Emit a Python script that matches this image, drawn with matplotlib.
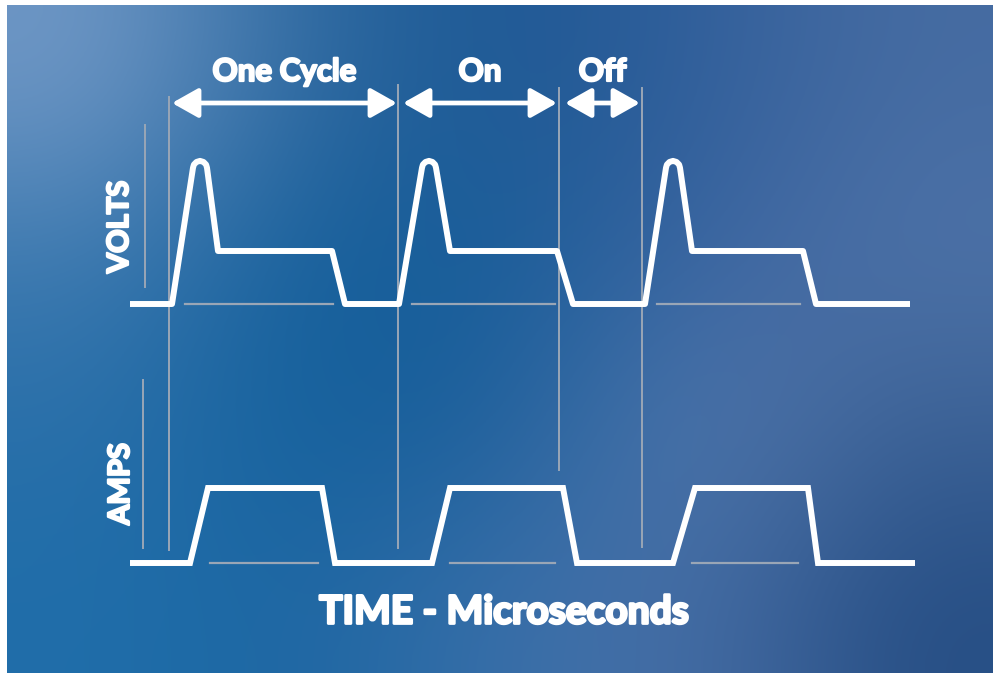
import numpy as np
import matplotlib
matplotlib.use("Agg")
import matplotlib.pyplot as plt
from matplotlib.patches import FancyArrowPatch
import matplotlib.patheffects as pe

# time in microseconds (diagram units), levels relative to baseline
volts_t = [0.0, 4.2, 6.3, 6.39, 6.65, 7.0, 7.35, 7.61, 7.7, 8.8, 20.2, 21.5,
           26.9, 29.2, 29.29, 29.55, 29.9, 30.25, 30.51, 30.6, 32.0, 42.7, 44.3,
           51.5, 53.6, 53.69, 53.95, 54.3, 54.65, 54.91, 55.0, 56.2, 67.3, 68.6,
           78.0]
volts_lvl = [0, 0, 2.57, 2.63, 2.68, 2.70, 2.68, 2.63, 2.57, 1, 1, 0,
             0, 2.57, 2.63, 2.68, 2.70, 2.68, 2.63, 2.57, 1, 1, 0,
             0, 2.57, 2.63, 2.68, 2.70, 2.68, 2.63, 2.57, 1, 1, 0,
             0]

amps_t = [0.0, 6.0, 7.8, 19.2, 20.5,
          30.2, 32.0, 43.3, 44.7,
          54.3, 56.5, 67.8, 68.8, 78.5]
amps_lvl = [0, 0, 1, 1, 0,
            0, 1, 1, 0,
            0, 1, 1, 0, 0]

# cycle markers (us) and the spans labelled above the traces
marks_t = [3.9, 26.8, 42.9, 51.2]
spans = [("One Cycle", 4.2, 26.7), ("On", 27.3, 42.7), ("Off", 43.5, 51.0)]

# gray reference segments at the baseline, under each pulse (start, end)
volts_ref = [(5.5, 20.3), (28.2, 42.5), (52.7, 67.0)]
amps_ref = [(8.0, 18.8), (32.0, 42.5), (56.2, 66.8)]

W, H = 993, 673
X0, PX = 130, 10.0          # pixel position of t=0, pixels per us
V_BASE, V_UNIT = 304, 53    # volts baseline row, pixels per level
A_BASE, A_UNIT = 563, 75

WHITE = "white"
GRAY = "#9aa6b6"

fig = plt.figure(figsize=(W / 100, H / 100), dpi=100, facecolor="white")
ax = fig.add_axes([0, 0, 1, 1])
ax.set_xlim((0 - X0) / PX, (W - X0) / PX)
ax.set_ylim(H, 0)
ax.axis("off")

# blue gradient background
bg = np.array([
    [[112, 152, 198], [45, 105, 160], [28, 88, 148], [50, 95, 155], [70, 108, 162]],
    [[62, 122, 176], [20, 94, 154], [24, 94, 154], [60, 100, 160], [78, 115, 168]],
    [[42, 112, 170], [18, 96, 156], [30, 95, 155], [85, 122, 175], [60, 98, 150]],
    [[32, 110, 170], [28, 102, 162], [58, 112, 170], [72, 110, 165], [38, 78, 132]],
]) / 255.0
ax.imshow(bg, extent=[(7 - X0) / PX, (W - X0) / PX, H, 5],
          interpolation="bicubic", aspect="auto", zorder=0)

# axis stubs
ax.plot([(145 - X0) / PX] * 2, [125, 287], color=GRAY, lw=1.4, zorder=1)
ax.plot([(143 - X0) / PX] * 2, [380, 548], color=GRAY, lw=1.4, zorder=1)

# cycle marker lines
marks_bottom = [550, 548, 470, 547]
marks_top = [97, 85, 88, 88]
for t, y0, y1 in zip(marks_t, marks_top, marks_bottom):
    ax.plot([t, t], [y0, y1], color=GRAY, lw=1.4, zorder=1)

for a, b in volts_ref:
    ax.plot([a, b], [V_BASE, V_BASE], color=GRAY, lw=1.6, zorder=1)
for a, b in amps_ref:
    ax.plot([a, b], [A_BASE, A_BASE], color=GRAY, lw=1.6, zorder=1)

# traces
vy = [V_BASE - v * V_UNIT for v in volts_lvl]
ay = [A_BASE - v * A_UNIT for v in amps_lvl]
ax.plot(volts_t, vy, color=WHITE, lw=4.3, solid_joinstyle="round",
        solid_capstyle="butt", zorder=3)
ax.plot(amps_t, ay, color=WHITE, lw=4.3, solid_joinstyle="miter",
        solid_capstyle="butt", zorder=3)

# span arrows and labels
font = ["Lato", "DejaVu Sans"]
heavy = [pe.withStroke(linewidth=1.6, foreground=WHITE)]
for label, a, b in spans:
    arr = FancyArrowPatch((a, 103), (b, 103),
                          arrowstyle="<|-|>,head_length=0.8,head_width=0.45",
                          mutation_scale=20, color=WHITE, lw=3.4,
                          shrinkA=0, shrinkB=0, zorder=3)
    ax.add_patch(arr)
    ax.text((a + b) / 2, 72, label, color=WHITE, fontsize=22.5,
            fontweight="bold", family=font, ha="center", va="center",
            path_effects=heavy)

ax.text((120 - X0) / PX, 227, "VOLTS", color=WHITE, fontsize=21,
        fontweight="bold", family=font, rotation=90, ha="center", va="center",
        path_effects=heavy)
ax.text((121 - X0) / PX, 484, "AMPS", color=WHITE, fontsize=21,
        fontweight="bold", family=font, rotation=90, ha="center", va="center",
        path_effects=heavy)
ax.text((504 - X0) / PX, 612, "TIME - Microseconds", color=WHITE,
        fontsize=28, fontweight="bold", family=font, ha="center", va="center",
        path_effects=[pe.withStroke(linewidth=2, foreground=WHITE)])

fig.savefig("out.png", dpi=100, facecolor="white")
